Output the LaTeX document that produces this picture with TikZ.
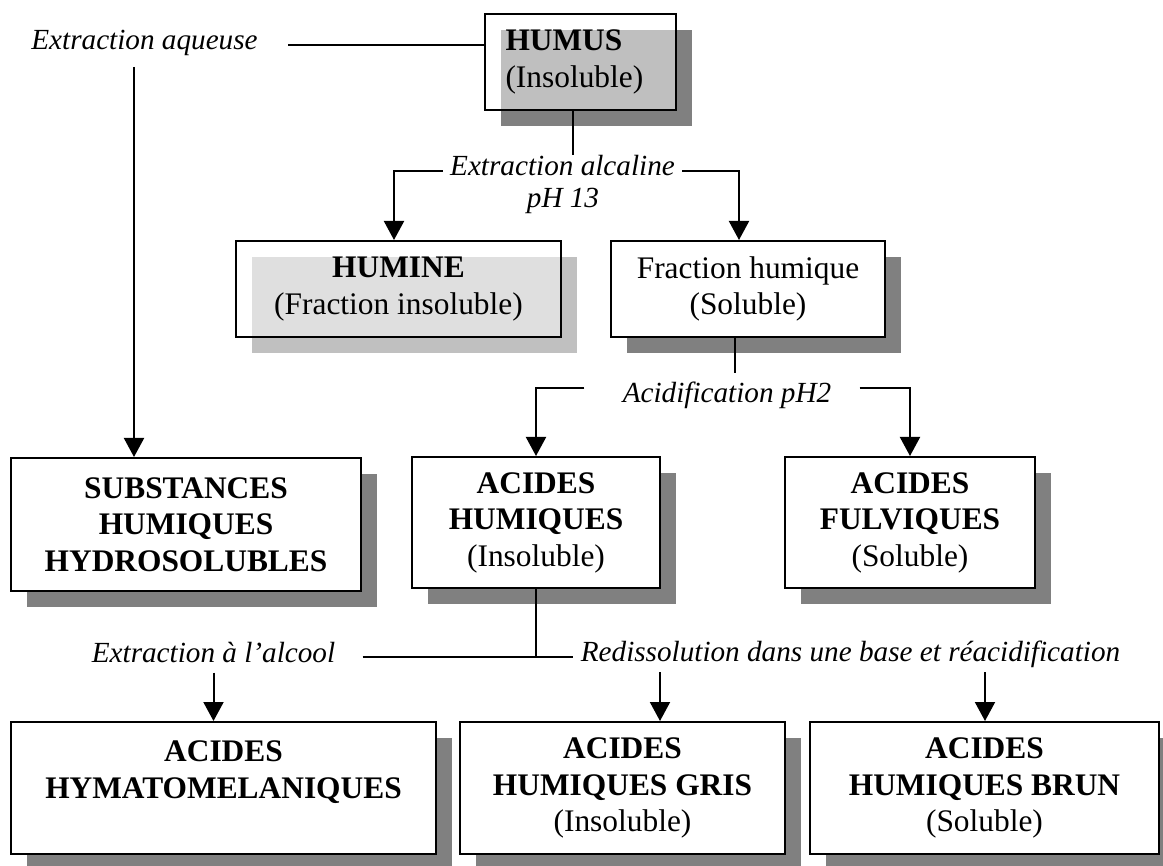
\documentclass[tikz,border=0pt]{standalone}
\usepackage{fontspec}
\setmainfont{Liberation Serif}
\usepackage{tikz}
\usetikzlibrary{arrows.meta,shadows}
\definecolor{shadegray}{HTML}{808080}
\definecolor{shadelight}{HTML}{C0C0C0}
\newcommand{\boxfont}{\fontsize{15.7}{18.25}\selectfont}
\newcommand{\procfont}{\fontsize{14.6}{16.5}\selectfont\itshape}
\tikzset{
  box/.style={rectangle,draw=black,line width=1pt,fill=white,align=center,inner sep=0pt,font=\boxfont,drop shadow={shadow xshift=8pt,shadow yshift=-8pt,fill=shadegray,opacity=1}},
  glassbox/.style={rectangle,draw=black,line width=1pt,fill=white,fill opacity=0.5,text opacity=1,align=center,inner sep=0pt,font=\boxfont,drop shadow={shadow xshift=8pt,shadow yshift=-8pt,fill=#1,opacity=1,fill opacity=1}},
  proc/.style={inner sep=0pt,anchor=base,align=center,font=\procfont},
  link/.style={line width=1pt,draw=black},
  flow/.style={-{Triangle[length=9.5pt,width=10pt]},line width=1pt,draw=black}
}
\begin{document}
\begin{tikzpicture}[x=0.5pt,y=-0.5pt]
\fill[white] (0,0) rectangle (1163,866);
\useasboundingbox (0,0) rectangle (1163,866);
\node[glassbox=shadegray,align=left,text width=75pt,inner xsep=10.25pt,minimum height=48pt] (humus) at (580.5,62) {\textbf{HUMUS}\\(Insoluble)};
\node[glassbox=shadelight,minimum width=162.5pt,minimum height=48pt] (humine) at (398.5,289) {\textbf{HUMINE}\\(Fraction insoluble)};
\node[box,minimum width=137pt,minimum height=48pt] (fraction) at (748,289) {Fraction humique\\(Soluble)};
\node[box,minimum width=175pt,minimum height=66.5pt] (subst) at (186,524.5) {\textbf{SUBSTANCES}\\\textbf{HUMIQUES}\\\textbf{HYDROSOLUBLES}};
\node[box,minimum width=124pt,minimum height=65.5pt] (ahum) at (536,522.5) {\textbf{ACIDES}\\\textbf{HUMIQUES}\\(Insoluble)};
\node[box,minimum width=125pt,minimum height=65.5pt] (fulv) at (910,522.5) {\textbf{ACIDES}\\\textbf{FULVIQUES}\\(Soluble)};
\node[box,minimum width=212.5pt,minimum height=66pt] (hymato) at (223.5,788) {\textbf{ACIDES}\\\textbf{HYMATOMELANIQUES}\\\mbox{}};
\node[box,minimum width=162.5pt,minimum height=66pt] (gris) at (622.5,788) {\textbf{ACIDES}\\\textbf{HUMIQUES GRIS}\\(Insoluble)};
\node[box,minimum width=174.5pt,minimum height=66pt] (brun) at (984.5,788) {\textbf{ACIDES}\\\textbf{HUMIQUES BRUN}\\(Soluble)};
\node[proc] (aqueuse) at (144.5,50) {Extraction aqueuse};
\node[proc] (alcaline) at (562.5,176) {Extraction alcaline};
\node[proc] (ph13) at (563,208) {pH 13};
\node[proc] (acid) at (727,403) {Acidification pH2};
\node[proc] (alcool) at (213.5,662) {Extraction à l’alcool};
\node[proc] (redis) at (850.5,661) {Redissolution dans une base et réacidification};
\coordinate (aqdown) at (134,67);
\coordinate (grisin) at (660,672);
\coordinate (brunin) at (985,672);
\draw[link] ([xshift=15pt]aqueuse.mid east) -- (aqueuse.mid east -| humus.west);
\draw[flow] (aqdown) -- (aqdown |- subst.north);
\draw[link] ([xshift=-3.75pt]humus.south) -- ([xshift=-3.75pt]humus.south |- alcaline.north);
\draw[flow] ([xshift=-3.5pt]alcaline.mid west) -| ([xshift=-2.25pt]humine.north);
\draw[flow] ([xshift=3.5pt]alcaline.mid east) -| ([xshift=-4.5pt]fraction.north);
\draw[link] ([xshift=-6.5pt]fraction.south) -- ++(0,35);
\draw[flow] ([shift={(-19pt,5pt)}]acid.mid west) -| (ahum.north);
\draw[flow] ([shift={(14pt,5pt)}]acid.mid east) -| (fulv.north);
\draw[link] (ahum.south) -- (ahum.south |- alcool.mid east);
\draw[link] ([xshift=13.5pt]alcool.mid east) -- ([xshift=-3.5pt]alcool.mid east -| redis.mid west);
\draw[flow] ([yshift=-5pt]alcool.south) -- (alcool.south |- hymato.north);
\draw[flow] (grisin) -- (grisin |- gris.north);
\draw[flow] (brunin) -- (brunin |- brun.north);
\end{tikzpicture}
\end{document}
